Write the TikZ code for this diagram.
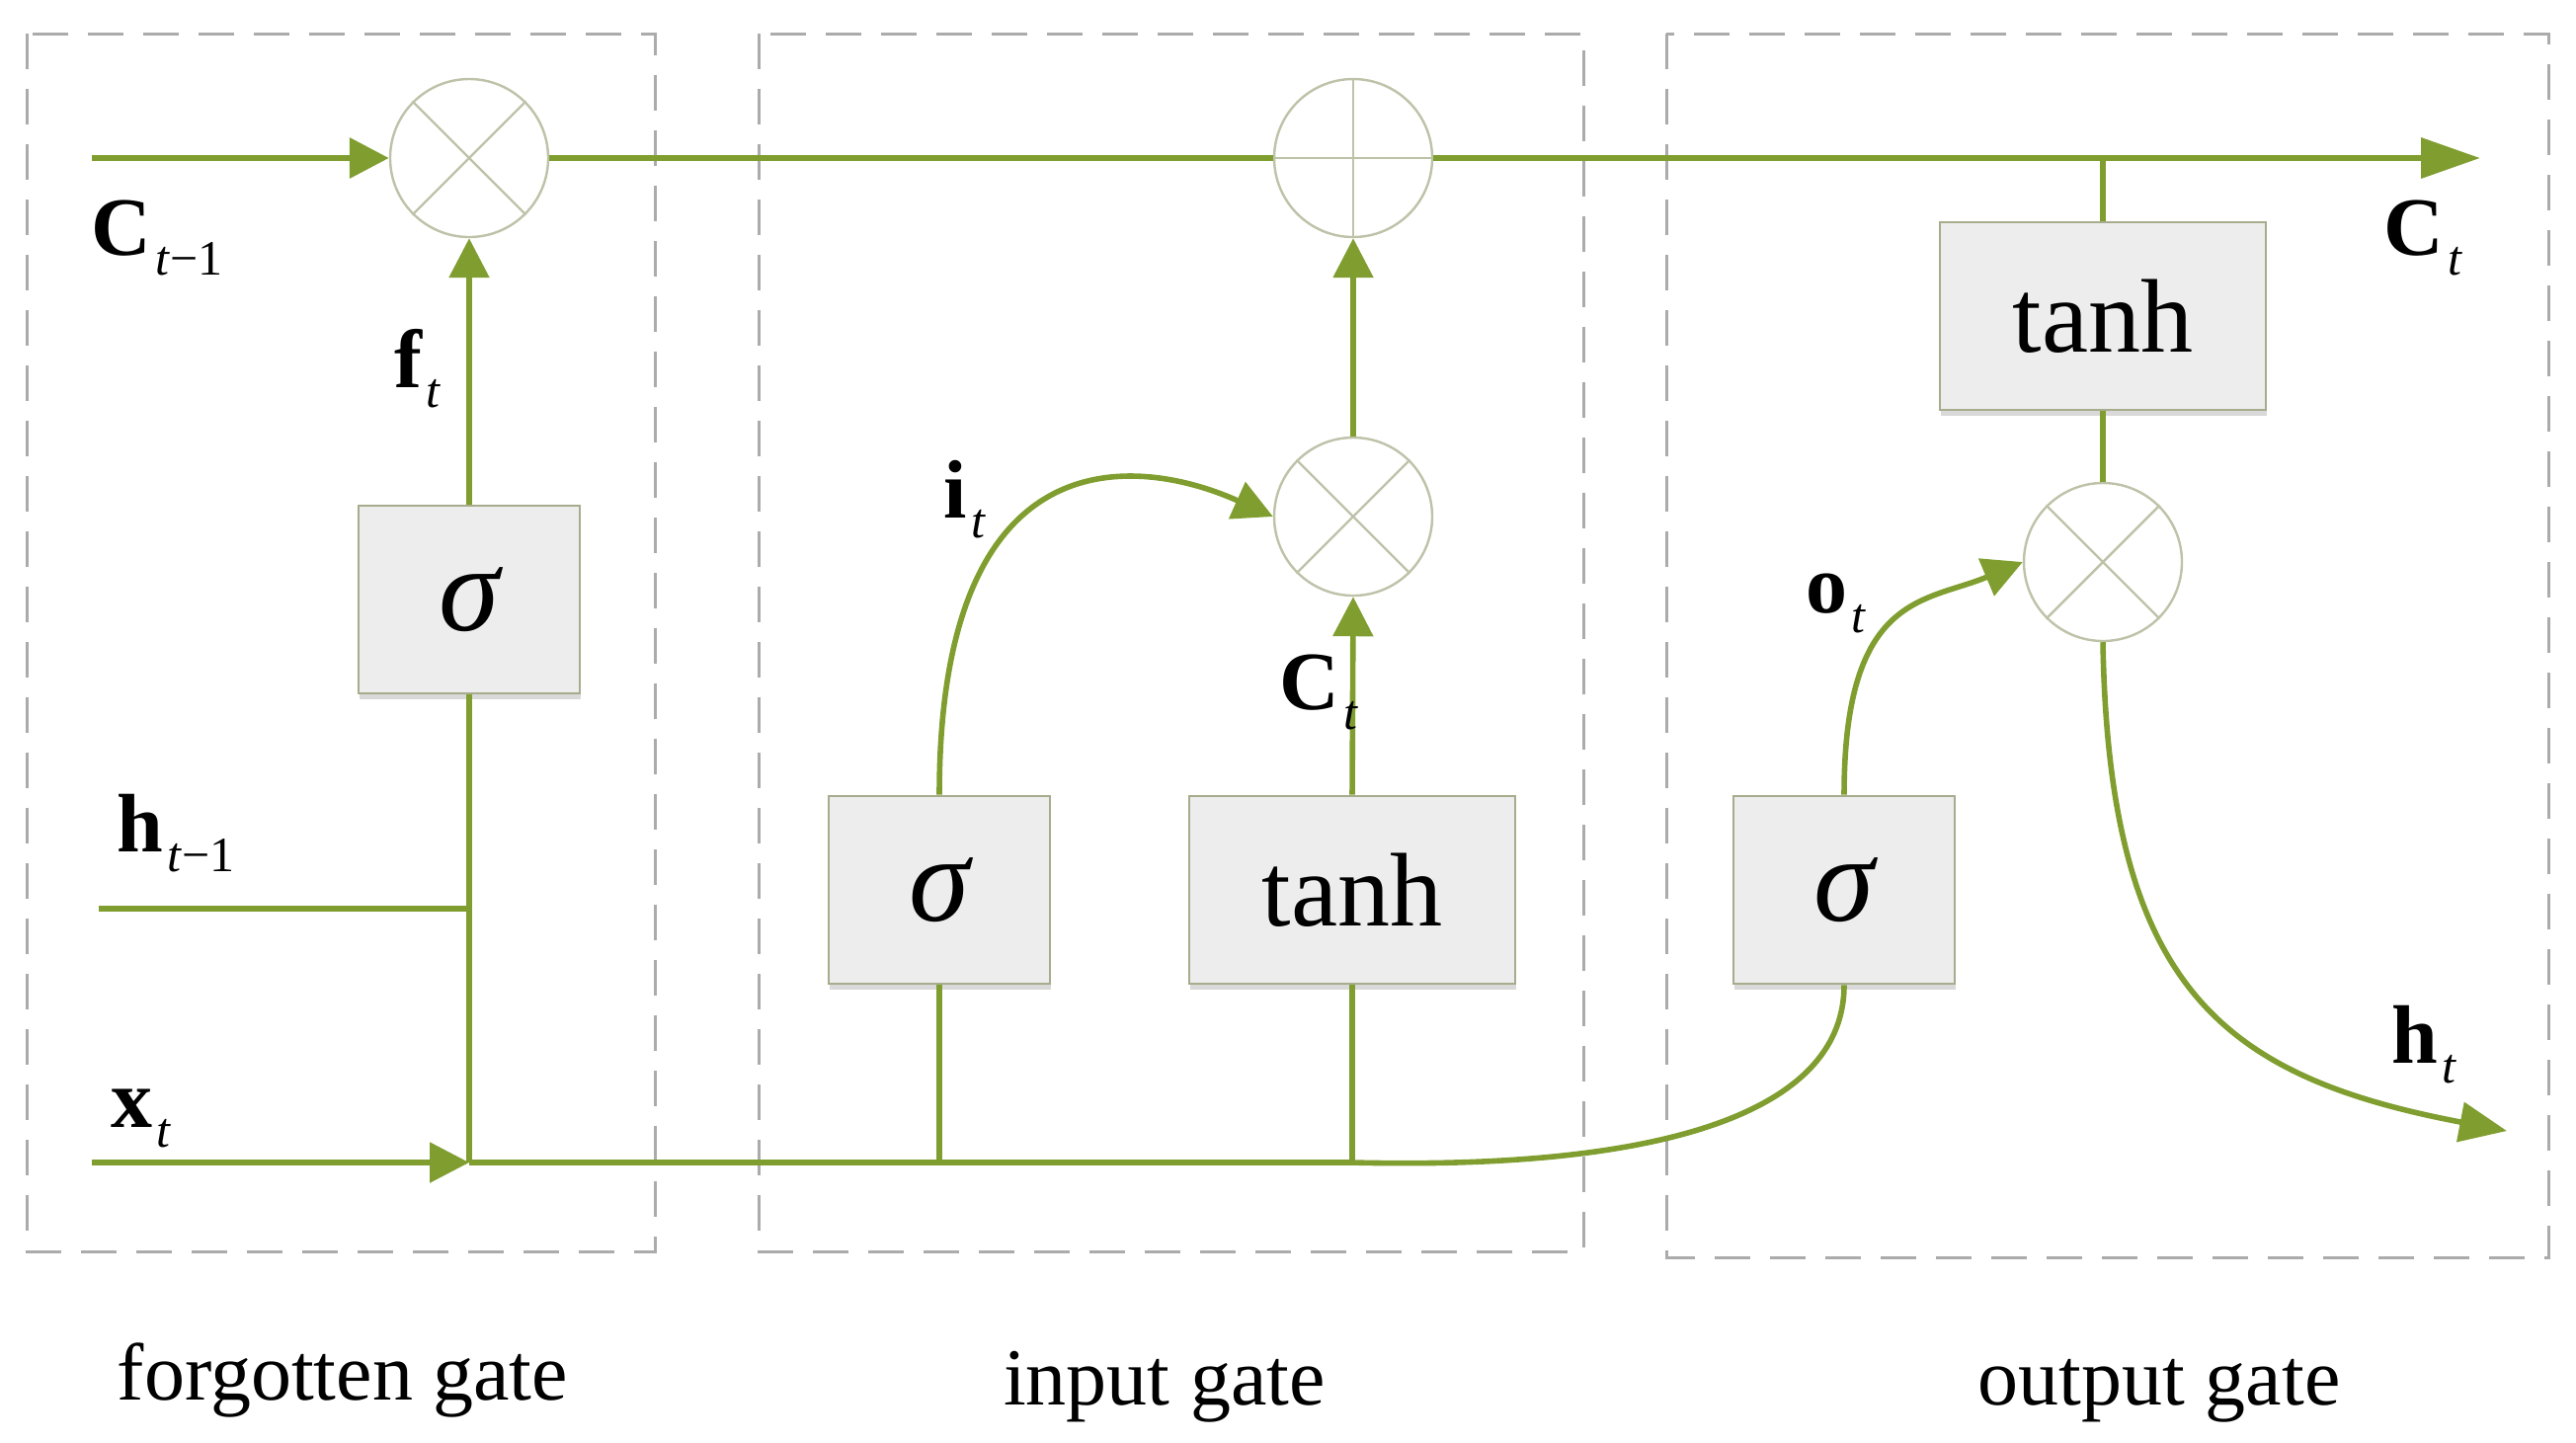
\documentclass[tikz,border=0pt]{standalone}
\usepackage{fontspec}
\setmainfont{Liberation Serif}
\usetikzlibrary{arrows.meta,shadows}
\definecolor{lg}{HTML}{809E30}
\definecolor{cg}{HTML}{BEC2A8}
\definecolor{bb}{HTML}{A6AC8C}
\definecolor{bf}{HTML}{EDEDED}
\definecolor{dg}{HTML}{ABABAB}
\newcommand{\vlab}[2]{{\fontsize{21}{21}\selectfont\bfseries #1}\kern1pt\raisebox{-5pt}{\fontsize{12.5}{12.5}\selectfont #2}}
\begin{document}
\begin{tikzpicture}[x=0.25pt,y=-0.25pt,
  gatebox/.style={draw=dg, line width=0.75pt, dash pattern=on 9pt off 5pt},
  fnbox/.style={draw=bb, fill=bf, line width=0.7pt, minimum height=47.5pt, inner sep=0pt,
    drop shadow={shadow xshift=0.3pt, shadow yshift=-1.6pt, fill=black, opacity=0.15}},
  sigbox/.style={fnbox, minimum width=56pt, font=\fontsize{31}{31}\selectfont\itshape},
  tanhbox/.style={fnbox, minimum width=82.5pt, font=\fontsize{26.5}{26.5}\selectfont},
  opc/.style={circle, draw=cg, fill=white, line width=0.6pt, minimum size=40pt, inner sep=0pt},
  ln/.style={draw=lg, line width=1.4pt},
  tln/.style={draw=lg, line width=1.7pt},
  ar/.style={-{Triangle[length=10pt,width=10pt]}},
  bar/.style={-{Triangle[length=15pt,width=10pt]}},
  har/.style={-{Triangle[length=12pt,width=10pt]}},
  lab/.style={anchor=base west, inner sep=0pt},
  glab/.style={anchor=base, inner sep=0pt, font=\fontsize{20.5}{20.5}\selectfont}
]
\useasboundingbox (0,0) rectangle (2608,1460);

% gate regions
\draw[gatebox] (27,34) rectangle (663,1267);
\draw[gatebox] (768,34) rectangle (1603,1267);
\draw[gatebox] (1687,34) rectangle (2580,1273);

% nodes
\node[opc] (g1) at (475,160) {};
\node[opc] (p)  at (1370,160) {};
\node[opc] (g2) at (1370,523) {};
\node[opc] (g3) at (2129,569) {};
\node[sigbox] (s1) at (475,607) {σ};
\node[sigbox] (s2) at (951,901) {σ};
\node[tanhbox] (t2) at (1369,901) {tanh};
\node[sigbox] (s3) at (1867,901) {σ};
\node[tanhbox] (t3) at (2129,320) {tanh};

\draw[cg, line width=0.6pt] (g1.north west) -- (g1.south east) (g1.north east) -- (g1.south west);
\draw[cg, line width=0.6pt] (g2.north west) -- (g2.south east) (g2.north east) -- (g2.south west);
\draw[cg, line width=0.6pt] (g3.north west) -- (g3.south east) (g3.north east) -- (g3.south west);
\draw[cg, line width=0.6pt] (p.north) -- (p.south) (p.west) -- (p.east);

% coordinates
\coordinate (cin) at (93,160);
\coordinate (cout) at (2511,160);
\coordinate (cbr) at (2129,160);
\coordinate (hin) at (100,920);
\coordinate (hj) at (475,920);
\coordinate (xin) at (93,1177);
\coordinate (xj) at (475,1177);
\coordinate (xs2) at (951,1177);
\coordinate (xt2) at (1369,1177);
\coordinate (hout) at (2538,1145);

% cell state line
\draw[tln, ar] (cin) -- (g1.west);
\draw[tln] (g1.east) -- (p.west);
\draw[tln, bar] (p.east) -- (cout);
\draw[ln] (cbr) -- (t3.north);
\draw[ln] (t3.south) -- (g3.north);

% forget gate
\draw[ln, ar] (s1.north) -- (g1.south);
\draw[ln] (xj) -- (s1.south);
\draw[ln] (hin) -- (hj);
\draw[ln, ar] (xin) -- (xj);
\draw[ln] (xj) -- (xt2);

% input gate
\draw[ln] (xs2) -- (s2.south);
\draw[ln] (xt2) -- (t2.south);
\draw[ln, ar] (s2.north) .. controls (951,430) and (1160,465) .. (g2.west);
\draw[ln, ar] (t2.north) -- (g2.south);
\draw[ln, ar] (g2.north) -- (p.south);

% output gate
\draw[ln] (xt2) .. controls (1700,1185) and (1867,1120) .. (s3.south);
\draw[ln, ar] (s3.north) .. controls (1867,600) and (1950,610) .. (g3.west);
\draw[ln, har] (g3.south) .. controls (2135,1000) and (2250,1090) .. (hout);

% labels
\node[lab] (lC)  at (92,258)   {\vlab{C}{\textit{t}−1}};
\node[lab] (lf)  at (399,392)  {\vlab{f}{\textit{t}}};
\node[lab] (lh)  at (118,862)  {\vlab{h}{\textit{t}−1}};
\node[lab] (lx)  at (112,1141) {\vlab{x}{\textit{t}}};
\node[lab] (li)  at (955,524)  {\vlab{i}{\textit{t}}};
\node[lab] (lCt) at (1295,718) {\vlab{C}{\textit{t}}};
\node[lab] (lo)  at (1828,620) {\vlab{o}{\textit{t}}};
\node[lab] (lCo) at (2413,258) {\vlab{C}{\textit{t}}};
\node[lab] (lht) at (2421,1076) {\vlab{h}{\textit{t}}};

\node[glab] (gl1) at (347,1417) {forgotten gate};
\node[glab] (gl2) at (1179,1422) {input gate};
\node[glab] (gl3) at (2186,1422) {output gate};
\end{tikzpicture}
\end{document}
